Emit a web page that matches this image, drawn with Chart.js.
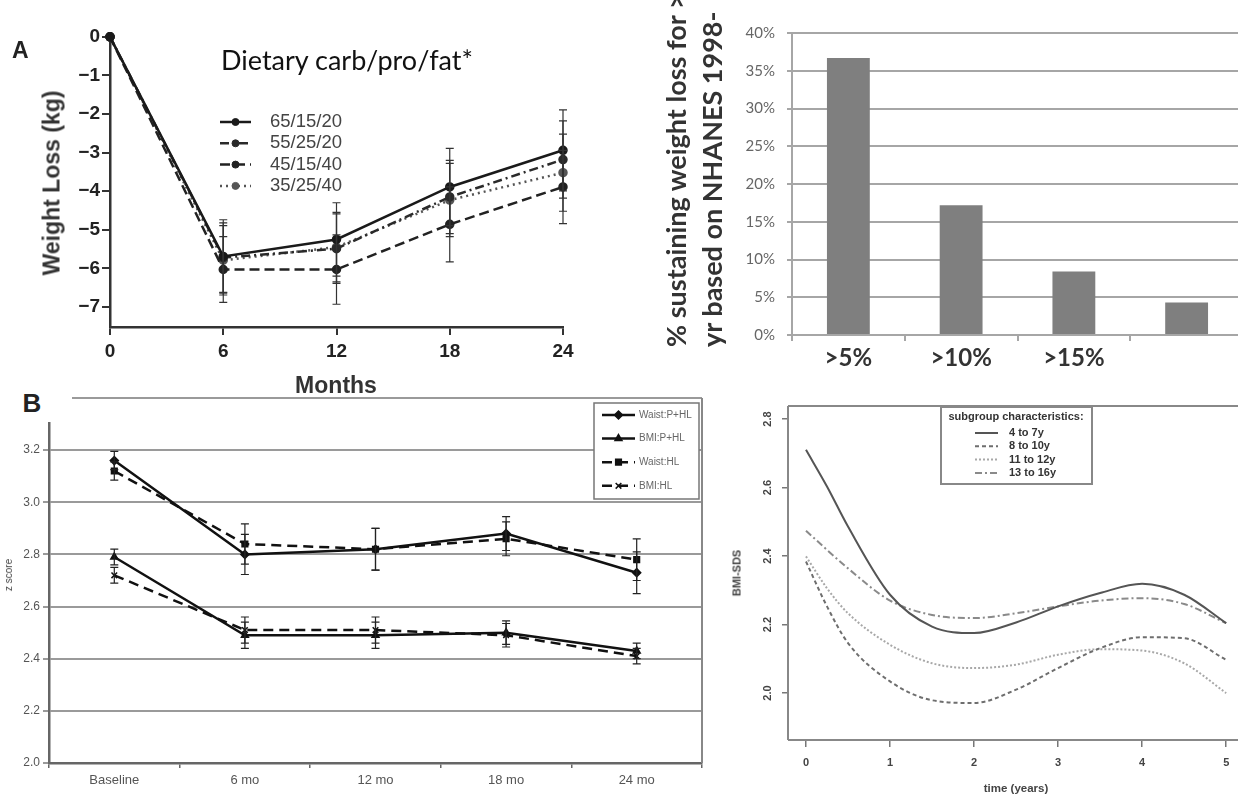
<!DOCTYPE html>
<html>
<head>
<meta charset="utf-8">
<title>Weight loss panels</title>
<script src="https://cdn.jsdelivr.net/npm/chart.js@4.4.1/dist/chart.umd.min.js"></script>
<style>
  html, body { margin: 0; padding: 0; background: #fff; }
  body { position: relative; width: 1238px; height: 795px; overflow: hidden; }
  canvas { position: absolute; }
  .lbl { position: absolute; white-space: nowrap; line-height: 1; font-family: "Liberation Sans", Arial, sans-serif; color: #222; }
  .c { transform: translate(-50%, -50%); }
  .rc { transform-origin: 0 0; transform: rotate(-90deg) translate(-50%, -50%); }
  .up { transform-origin: 0 0; transform: rotate(-90deg); }
</style>
</head>
<body>
<canvas id="chartA" width="600" height="395" style="left:0;top:0"></canvas>
<canvas id="chartBar" width="610" height="380" style="left:640px;top:0"></canvas>
<canvas id="chartB" width="720" height="410" style="left:0;top:385px"></canvas>
<canvas id="chartR" width="530" height="410" style="left:720px;top:385px"></canvas>

<div class="lbl" style="left:12px;top:39px;font-size:23px;font-weight:bold">A</div>
<div class="lbl" style="left:221px;top:46px;font-size:27px;font-family:Lato,sans-serif;color:#111">Dietary carb/pro/fat*</div>
<div class="lbl rc" style="left:52px;top:183px;font-size:23px;font-weight:bold;color:#333">Weight Loss (kg)</div>
<div class="lbl c" style="left:336px;top:385px;font-size:23px;font-weight:bold;color:#333">Months</div>

<div class="lbl up" style="left:662px;top:347px;font-size:27px;font-weight:bold;font-family:Lato,sans-serif;color:#333">% sustaining weight loss for &gt;1 yr</div>
<div class="lbl up" style="left:698px;top:347px;font-size:27px;font-weight:bold;font-family:Lato,sans-serif;color:#333">yr based on NHANES 1998-</div>

<div class="lbl" style="left:0;top:385px;width:72px;height:37px;background:#fff"></div>
<div class="lbl c" style="left:32px;top:403px;font-size:26px;font-weight:bold">B</div>
<div class="lbl rc" style="left:9px;top:575px;font-size:10px;color:#444">z score</div>

<div class="lbl rc" style="left:737px;top:573px;font-size:11px;font-weight:bold;color:#444">BMI-SDS</div>
<div class="lbl c" style="left:1016px;top:789px;font-size:11.5px;font-weight:bold;color:#444">time (years)</div>

<script>
// ---- A: weight change by diet composition
const monthsA = [0, 6, 12, 18, 24];
const yTicksA = [0, -1, -2, -3, -4, -5, -6, -7];
const loss65 = [0, -5.69, -5.25, -3.89, -2.94];
const loss55 = [0, -5.72, -5.49, -4.15, -3.18];
const loss45 = [0, -6.03, -6.03, -4.86, -3.89];
const loss35 = [0, -5.79, -5.45, -4.23, -3.52];
const err65 = [0, 0.95, 0.95, 1.0, 1.05];
const err55 = [0, 0.9, 0.9, 0.95, 1.0];
const err45 = [0, 0.85, 0.9, 0.97, 0.95];
const err35 = [0, 0.9, 0.9, 0.95, 1.0];

// ---- top right: share sustaining weight loss
const lossCats = ['>5%', '>10%', '>15%', ''];
const sustainPct = [36.7, 17.2, 8.4, 4.3];
const yTicksBar = [0, 5, 10, 15, 20, 25, 30, 35, 40];

// ---- B: z scores
const visitsB = ['Baseline', '6 mo', '12 mo', '18 mo', '24 mo'];
const yTicksB = [2.0, 2.2, 2.4, 2.6, 2.8, 3.0, 3.2, 3.4];
const waistPHL = [3.16, 2.80, 2.82, 2.88, 2.73];
const bmiPHL = [2.79, 2.49, 2.49, 2.50, 2.43];
const waistHL = [3.12, 2.84, 2.82, 2.86, 2.78];
const bmiHL = [2.72, 2.51, 2.51, 2.49, 2.41];
const errWaist = [0.035, 0.077, 0.08, 0.065, 0.08];
const errBmi = [0.03, 0.05, 0.05, 0.045, 0.03];

// ---- bottom right: BMI-SDS curves by age group
const years = [0, 0.25, 0.5, 1, 1.5, 2, 2.5, 3, 3.5, 4, 4.5, 5];
const xTicksR = [0, 1, 2, 3, 4, 5];
const yTicksR = [2.0, 2.2, 2.4, 2.6, 2.8];
const age4to7 = [2.71, 2.603, 2.486, 2.287, 2.194, 2.175, 2.206, 2.253, 2.292, 2.319, 2.287, 2.204];
const age8to10 = [2.384, 2.253, 2.146, 2.034, 1.979, 1.971, 2.010, 2.073, 2.131, 2.163, 2.160, 2.097];
const age11to12 = [2.399, 2.306, 2.233, 2.141, 2.087, 2.073, 2.083, 2.112, 2.128, 2.124, 2.087, 2.0];
const age13to16 = [2.474, 2.418, 2.364, 2.270, 2.228, 2.219, 2.233, 2.253, 2.270, 2.277, 2.260, 2.204];

Chart.defaults.font.family = '"Liberation Sans", Arial, sans-serif';
Chart.defaults.animation = false;
Chart.defaults.plugins.legend.display = false;
Chart.defaults.plugins.tooltip.enabled = false;

const setTicks = arr => s => { s.ticks = arr.map(v => ({ value: v })); };
const xy = (xs, ys) => xs.map((x, i) => ({ x, y: ys[i] }));

// vertical error bars from dataset.errors
const errorBars = {
  id: 'errorBars',
  afterDatasetsDraw(chart, args, o) {
    const ctx = chart.ctx, ys = chart.scales.y;
    chart.data.datasets.forEach((ds, i) => {
      if (!ds.errors) return;
      ctx.save();
      ctx.strokeStyle = o.color;
      ctx.lineWidth = o.width;
      chart.getDatasetMeta(i).data.forEach((pt, j) => {
        const e = ds.errors[j];
        if (!e) return;
        const raw = ds.data[j];
        const v = typeof raw === 'object' ? raw.y : raw;
        const t = ys.getPixelForValue(v + e), b = ys.getPixelForValue(v - e);
        ctx.beginPath();
        ctx.moveTo(pt.x, t); ctx.lineTo(pt.x, b);
        ctx.moveTo(pt.x - o.cap, t); ctx.lineTo(pt.x + o.cap, t);
        ctx.moveTo(pt.x - o.cap, b); ctx.lineTo(pt.x + o.cap, b);
        ctx.stroke();
      });
      ctx.restore();
    });
  }
};

// hand placed legend with line samples
const lineLegend = {
  id: 'lineLegend',
  afterDraw(chart, args, o) {
    const ctx = chart.ctx;
    ctx.save();
    if (o.box) {
      const [bx, by, bw, bh] = o.box;
      ctx.fillStyle = '#fff';
      ctx.fillRect(bx, by, bw, bh);
      ctx.strokeStyle = o.boxColor;
      ctx.lineWidth = o.boxWidth;
      ctx.strokeRect(bx, by, bw, bh);
    }
    ctx.textBaseline = 'middle';
    if (o.title) {
      ctx.font = o.titleFont;
      ctx.fillStyle = o.color;
      ctx.textAlign = 'center';
      ctx.fillText(o.title, o.titleX, o.titleY);
    }
    ctx.textAlign = 'left';
    chart.data.datasets.forEach((ds, i) => {
      const y = o.y + i * o.rowH;
      ctx.setLineDash(ds.borderDash || []);
      ctx.strokeStyle = ds.borderColor;
      ctx.lineWidth = ds.borderWidth;
      ctx.beginPath();
      ctx.moveTo(o.x, y);
      ctx.lineTo(o.x + o.lineW, y);
      ctx.stroke();
      ctx.setLineDash([]);
      if (ds.pointRadius) {
        ctx.fillStyle = ds.pointBackgroundColor;
        ctx.lineWidth = ds.pointBorderWidth || 1;
        Chart.helpers.drawPoint(ctx, { pointStyle: ds.pointStyle, radius: ds.pointRadius, borderWidth: ds.pointBorderWidth || 1 }, o.x + o.lineW / 2, y);
      }
      ctx.font = o.font;
      ctx.fillStyle = o.color;
      ctx.fillText(ds.label, o.x + o.lineW + o.gap, y);
    });
    ctx.restore();
  }
};

// border lines around the plot area
const frame = {
  id: 'frame',
  afterDraw(chart, args, o) {
    if (!o.sides) return;
    const { left, right, top, bottom } = chart.chartArea;
    const ctx = chart.ctx;
    ctx.save();
    ctx.strokeStyle = o.color;
    ctx.lineWidth = o.width;
    ctx.beginPath();
    if (o.sides.includes('top')) { ctx.moveTo(left, top); ctx.lineTo(right, top); }
    if (o.sides.includes('right')) { ctx.moveTo(right, top); ctx.lineTo(right, bottom); }
    if (o.sides.includes('bottom')) { ctx.moveTo(left, bottom); ctx.lineTo(right, bottom); }
    if (o.sides.includes('left')) { ctx.moveTo(left, top); ctx.lineTo(left, bottom); }
    ctx.stroke();
    ctx.restore();
  }
};

// ---------- A
const dietSet = (label, vals, errs, dash, color) => ({
  label, data: xy(monthsA, vals), errors: errs,
  borderColor: color, borderWidth: 2.5, borderDash: dash,
  pointRadius: 3.5, pointStyle: 'circle', pointBackgroundColor: color, pointBorderColor: color,
  tension: 0, clip: false
});
new Chart(document.getElementById('chartA'), {
  type: 'line',
  data: {
    datasets: [
      dietSet('65/15/20', loss65, err65, [], '#1a1a1a'),
      dietSet('55/25/20', loss55, err55, [9, 4, 2, 4], '#2a2a2a'),
      dietSet('45/15/40', loss45, err45, [10, 5], '#222'),
      dietSet('35/25/40', loss35, err35, [2, 4], '#555')
    ]
  },
  options: {
    responsive: false,
    layout: { padding: { top: 33, right: 37, left: 0, bottom: 0 } },
    scales: {
      x: {
        type: 'linear', min: 0, max: 24,
        afterBuildTicks: setTicks(monthsA),
        afterFit: s => { s.height = 68; },
        grid: { drawOnChartArea: false, tickLength: 8, color: '#333', lineWidth: 2 },
        border: { color: '#333', width: 2.5 },
        ticks: { padding: 5, color: '#222', font: { size: 19, weight: 'bold' } }
      },
      y: {
        min: -7.52, max: 0.1,
        afterBuildTicks: setTicks(yTicksA),
        afterFit: s => { s.width = 110; },
        grid: { drawOnChartArea: false, tickLength: 8, color: '#333', lineWidth: 2 },
        border: { color: '#333', width: 2.5 },
        ticks: { padding: 2, color: '#222', font: { size: 19, weight: 'bold' },
          callback: v => v < 0 ? '\u2212' + Math.abs(v) : String(v) }
      }
    },
    plugins: {
      errorBars: { color: '#333', width: 1.2, cap: 4 },
      lineLegend: { x: 220, y: 122, rowH: 21.3, lineW: 31, gap: 19, font: '18.5px "Liberation Sans", Arial', color: '#444' }
    }
  },
  plugins: [errorBars, lineLegend]
});

// ---------- top right bars
new Chart(document.getElementById('chartBar'), {
  type: 'bar',
  data: {
    labels: lossCats,
    datasets: [{ data: sustainPct, backgroundColor: '#7f7f7f', barPercentage: 0.38, categoryPercentage: 1 }]
  },
  options: {
    responsive: false,
    layout: { padding: { top: 33, right: 7, left: 0, bottom: 0 } },
    scales: {
      x: {
        afterFit: s => { s.height = 45; },
        grid: { drawOnChartArea: false, tickLength: 6, color: '#a6a6a6', lineWidth: 2 },
        border: { color: '#a6a6a6', width: 2 },
        ticks: { padding: 2.6, color: '#333', font: { family: 'Lato, sans-serif', size: 24, weight: 'bold' } }
      },
      y: {
        min: 0, max: 40,
        afterBuildTicks: setTicks(yTicksBar),
        afterFit: s => { s.width = 152; },
        grid: { color: '#a6a6a6', lineWidth: 2, tickLength: 5 },
        border: { color: '#a6a6a6', width: 2 },
        ticks: { padding: 12, color: '#666', font: { family: 'Lato, sans-serif', size: 15 }, callback: v => v + '%' }
      }
    }
  }
});

// ---------- B
const zSet = (label, vals, errs, dash, style) => ({
  label, data: vals, errors: errs,
  borderColor: '#111', borderWidth: 2.5, borderDash: dash,
  pointStyle: style, pointRadius: 4, pointBackgroundColor: '#111', pointBorderColor: '#111', pointBorderWidth: 1.5,
  tension: 0, clip: false
});
new Chart(document.getElementById('chartB'), {
  type: 'line',
  data: {
    labels: visitsB,
    datasets: [
      zSet('Waist:P+HL', waistPHL, errWaist, [], 'rectRot'),
      zSet('BMI:P+HL', bmiPHL, errBmi, [], 'triangle'),
      zSet('Waist:HL', waistHL, errWaist, [10, 6], 'rect'),
      zSet('BMI:HL', bmiHL, errBmi, [10, 6], 'crossRot')
    ]
  },
  options: {
    responsive: false,
    layout: { padding: { top: 13, right: 18, left: 0, bottom: 0 } },
    scales: {
      x: {
        offset: true,
        afterFit: s => { s.height = 32; },
        grid: { offset: true, drawOnChartArea: false, tickLength: 5, color: '#666', lineWidth: 1.5 },
        border: { color: '#666', width: 2.5 },
        ticks: { padding: 5, color: '#555', font: { size: 13 } }
      },
      y: {
        min: 2.0, max: 3.4,
        afterBuildTicks: setTicks(yTicksB),
        afterFit: s => { s.width = 49; },
        grid: { color: '#9a9a9a', lineWidth: 2, tickLength: 6 },
        border: { color: '#666', width: 2.5 },
        ticks: { padding: 3, color: '#555', font: { size: 12 }, callback: v => v.toFixed(1) }
      }
    },
    plugins: {
      errorBars: { color: '#222', width: 1.2, cap: 4 },
      frame: { sides: ['right'], color: '#888', width: 2 },
      lineLegend: { box: [594, 18, 105, 96], boxColor: '#777', boxWidth: 1.5,
        x: 602, y: 30, rowH: 23.6, lineW: 33, gap: 4, font: '10px "Liberation Sans", Arial', color: '#666' }
    }
  },
  plugins: [errorBars, frame, lineLegend]
});

// ---------- bottom right curves
const ageSet = (label, vals, dash, color) => ({
  label, data: xy(years, vals),
  borderColor: color, borderWidth: 2, borderDash: dash,
  pointRadius: 0, cubicInterpolationMode: 'monotone'
});
new Chart(document.getElementById('chartR'), {
  type: 'line',
  data: {
    datasets: [
      ageSet('4 to 7y', age4to7, [], '#555'),
      ageSet('8 to 10y', age8to10, [4, 3], '#6e6e6e'),
      ageSet('11 to 12y', age11to12, [2, 2], '#a8a8a8'),
      ageSet('13 to 16y', age13to16, [7, 3, 2, 3], '#8a8a8a')
    ]
  },
  options: {
    responsive: false,
    layout: { padding: { top: 21, right: 7, left: 0, bottom: 0 } },
    scales: {
      x: {
        type: 'linear', min: -0.214, max: 5.2,
        afterBuildTicks: setTicks(xTicksR),
        afterFit: s => { s.height = 55; },
        grid: { drawOnChartArea: false, tickLength: 7, color: '#777', lineWidth: 1.5 },
        border: { display: false },
        ticks: { padding: 9, color: '#444', font: { size: 11, weight: 'bold' } }
      },
      y: {
        min: 1.863, max: 2.838,
        afterBuildTicks: setTicks(yTicksR),
        afterFit: s => { s.width = 68; },
        grid: { drawOnChartArea: false, tickLength: 6, color: '#777', lineWidth: 1.5 },
        border: { display: false },
        ticks: { padding: 6.5, crossAlign: 'center', minRotation: 90, maxRotation: 90,
          color: '#444', font: { size: 11, weight: 'bold' }, callback: v => v.toFixed(1) }
      }
    },
    plugins: {
      frame: { sides: ['top', 'right', 'bottom', 'left'], color: '#888', width: 2 },
      lineLegend: { box: [221, 22, 151, 77], boxColor: '#888', boxWidth: 2,
        title: 'subgroup characteristics:', titleX: 296, titleY: 32, titleFont: 'bold 11px "Liberation Sans", Arial',
        x: 255, y: 48, rowH: 13.3, lineW: 23, gap: 11, font: 'bold 11px "Liberation Sans", Arial', color: '#333' }
    }
  },
  plugins: [frame, lineLegend]
});
</script>
</body>
</html>
